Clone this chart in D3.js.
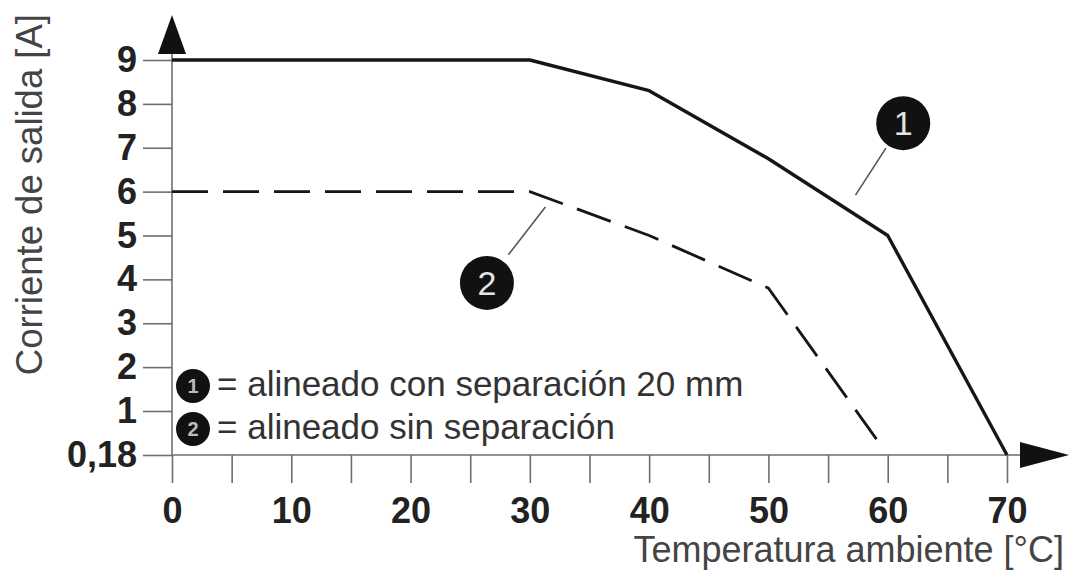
<!DOCTYPE html>
<html lang="es">
<head>
<meta charset="UTF-8"/>
<title>Corriente de salida vs temperatura</title>
<script src="https://d3js.org/d3.v7.min.js"></script>
<style>
  body { margin: 0; background: #fff; }
  svg { display: block; font-family: "Liberation Sans", Arial, Helvetica, sans-serif; }
</style>
</head>
<body>
<script>
	// derating curves
	var temps1   = [0, 30, 40, 50, 60, 70];
	var current1 = [9, 9, 8.3, 6.75, 5, 0.18];

	var temps2   = [0, 30, 40, 50, 59.3];
	var current2 = [6, 6, 5, 3.8, 0.4];

	var xTicks = [0, 5, 10, 15, 20, 25, 30, 35, 40, 45, 50, 55, 60, 65, 70];
	var xLabels = [0, 10, 20, 30, 40, 50, 60, 70];
	var yTicks = [0.18, 1, 2, 3, 4, 5, 6, 7, 8, 9];

	var legendLabels = ["= alineado con separación 20 mm", "= alineado sin separación"];

	var w = 1072;
	var h = 576;

	var xScale = d3.scaleLinear()
					.domain([0, 70])
					.range([172, 1007]);

	// the bottom step (0,18 .. 1) is squeezed a bit on the original, so use a piecewise scale
	var yScale = d3.scaleLinear()
					.domain([0.18, 1, 9])
					.range([455, 411, 60]);

	var svg = d3.select("body")
				.append("svg")
				.attr("width", w)
				.attr("height", h);

	var axisCol = "#6e6e6e";

	//Axes
	var xAxis = d3.axisBottom(xScale)
					.tickValues(xTicks)
					.tickSize(28)
					.tickSizeOuter(0)
					.tickPadding(14)
					.tickFormat(function(d){ return xLabels.indexOf(d) >= 0 ? d : ""; });

	var yAxis = d3.axisLeft(yScale)
					.tickValues(yTicks)
					.tickSize(29)
					.tickSizeOuter(0)
					.tickPadding(6)
					.tickFormat(function(d){ return String(d).replace(".", ","); });

	var gx = svg.append("g")
				.attr("transform", "translate(0," + yScale(0.18) + ")")
				.call(xAxis);

	var gy = svg.append("g")
				.attr("transform", "translate(" + xScale(0) + ",0)")
				.call(yAxis);

	[gx, gy].forEach(function(g){
		g.select(".domain").remove();
		g.selectAll(".tick line").attr("stroke", axisCol).attr("stroke-width", 1.6);
		g.selectAll(".tick text")
			.attr("fill", "#222")
			.attr("font-size", 36)
			.attr("font-weight", "bold")
			.attr("font-family", "'Liberation Sans', Arial, sans-serif");
	});

	//axis lines with arrow heads
	var x0 = xScale(0), y0 = yScale(0.18);
	svg.append("line")
		.attr("x1", x0).attr("y1", y0)
		.attr("x2", x0).attr("y2", 50)
		.attr("stroke", axisCol).attr("stroke-width", 1.6);
	svg.append("line")
		.attr("x1", x0).attr("y1", y0)
		.attr("x2", 1022).attr("y2", y0)
		.attr("stroke", axisCol).attr("stroke-width", 1.6);

	svg.append("path")
		.attr("d", "M" + x0 + ",15 L" + (x0 - 14) + ",54 L" + (x0 + 14) + ",54 Z")
		.attr("fill", "#111");
	svg.append("path")
		.attr("d", "M1069," + y0 + " L1020," + (y0 - 13) + " L1020," + (y0 + 13) + " Z")
		.attr("fill", "#111");

	//Curves
	var line = d3.line()
				.x(function(d){ return xScale(d[0]); })
				.y(function(d){ return yScale(d[1]); });

	var curve1 = temps1.map(function(t, i){ return [t, current1[i]]; });
	var curve2 = temps2.map(function(t, i){ return [t, current2[i]]; });

	svg.append("path")
		.datum(curve1)
		.attr("d", line)
		.attr("fill", "none")
		.attr("stroke", "#161616")
		.attr("stroke-width", 3.4)
		.attr("stroke-linejoin", "round");

	svg.append("path")
		.datum(curve2)
		.attr("d", line)
		.attr("fill", "none")
		.attr("stroke", "#161616")
		.attr("stroke-width", 2.8)
		.attr("stroke-dasharray", "36,15");

	//Callouts: circle position and leader line, in data units
	var callouts = [
		{ n: "1", cx: 61.3, cy: 7.56, lx1: 57.3, ly1: 5.92, lx2: 59.85, ly2: 6.99 },
		{ n: "2", cx: 26.4, cy: 3.92, lx1: 28.2, ly1: 4.56, lx2: 31.3, ly2: 5.65 }
	];

	callouts.forEach(function(c){
		svg.append("line")
			.attr("x1", xScale(c.lx1)).attr("y1", yScale(c.ly1))
			.attr("x2", xScale(c.lx2)).attr("y2", yScale(c.ly2))
			.attr("stroke", "#555").attr("stroke-width", 1.6);
		svg.append("circle")
			.attr("cx", xScale(c.cx)).attr("cy", yScale(c.cy))
			.attr("r", 27)
			.attr("fill", "#111");
		svg.append("text")
			.attr("x", xScale(c.cx)).attr("y", yScale(c.cy) + 12)
			.attr("text-anchor", "middle")
			.attr("font-size", 34)
			.attr("fill", "#e4e4e4")
			.text(c.n);
	});

	//Legend
	var legend = svg.append("g")
					.selectAll("g")
					.data(legendLabels)
					.enter()
					.append("g")
					.attr("transform", function(d, i){ return "translate(193," + (386 + i * 43) + ")"; });

	legend.append("circle")
		.attr("r", 17)
		.attr("fill", "#111");
	legend.append("text")
		.attr("y", 7)
		.attr("text-anchor", "middle")
		.attr("font-size", 20)
		.attr("font-weight", "bold")
		.attr("fill", "#bbb")
		.text(function(d, i){ return i + 1; });
	legend.append("text")
		.attr("x", 24)
		.attr("y", 10)
		.attr("font-size", 35)
		.attr("fill", "#333")
		.text(function(d){ return d; });

	//Axis titles
	svg.append("text")
		.attr("text-anchor", "end")
		.attr("x", 1064)
		.attr("y", 562)
		.attr("font-size", 36)
		.attr("fill", "#444")
		.text("Temperatura ambiente [°C]");

	svg.append("text")
		.attr("text-anchor", "end")
		.attr("transform", "rotate(-90)")
		.attr("x", -14)
		.attr("y", 42)
		.attr("font-size", 36.5)
		.attr("fill", "#444")
		.text("Corriente de salida [A]");
</script>
</body>
</html>
